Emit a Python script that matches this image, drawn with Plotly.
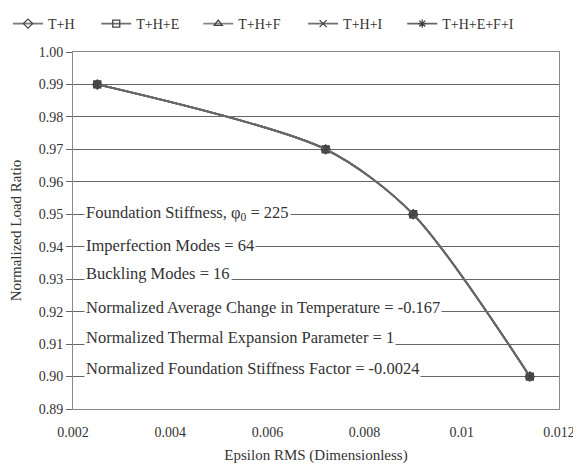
import plotly.graph_objects as go

series_names = ["T+H", "T+H+E", "T+H+F", "T+H+I", "T+H+E+F+I"]
series_symbols = ["diamond-open", "square-open", "triangle-up-open", "x-thin-open", "asterisk-open"]
epsilon_rms = [0.0025, 0.0072, 0.0090, 0.0114]
load_TH = [0.990, 0.970, 0.950, 0.900]
load_THE = [0.990, 0.970, 0.950, 0.900]
load_THF = [0.990, 0.970, 0.950, 0.900]
load_THI = [0.990, 0.970, 0.950, 0.900]
load_THEFI = [0.990, 0.970, 0.950, 0.900]
series_values = [load_TH, load_THE, load_THF, load_THI, load_THEFI]

notes = [
    ("Foundation Stiffness, φ<sub>0</sub> = 225", 0.9503),
    ("Imperfection Modes = 64", 0.9405),
    ("Buckling Modes = 16", 0.9318),
    ("Normalized Average Change in Temperature = -0.167", 0.9213),
    ("Normalized Thermal Expansion Parameter = 1", 0.9120),
    ("Normalized Foundation Stiffness Factor = -0.0024", 0.9025),
]

FONT = "'Liberation Serif', 'Times New Roman', serif"
fig = go.Figure()
line_colors = ["#7a7a7a", "#6e6e6e", "#858585", "#707070", "#666666"]
legend_ids = ["legend", "legend2", "legend3", "legend4", "legend5"]
legend_x = [0.0, 0.154, 0.332, 0.515, 0.688]
for name, sym, vals, col, lg in zip(series_names, series_symbols, series_values, line_colors, legend_ids):
    fig.add_trace(go.Scatter(
        x=epsilon_rms, y=vals, name=name, mode="lines+markers",
        line=dict(color=col, width=1.8, shape="spline", smoothing=0.8),
        marker=dict(symbol=sym, size=7, color="#444444", line=dict(width=1.3, color="#444444")),
        legend=lg,
    ))

for txt, yv in notes:
    fig.add_annotation(x=0.023, xref="paper", y=yv, yref="y", text=txt, showarrow=False,
                       xanchor="left", yanchor="middle", bgcolor="white", borderpad=1,
                       font=dict(family=FONT, size=16.5, color="#333333"))

legend_common = dict(orientation="h", xref="container", y=1.0, yref="container",
                     xanchor="left", yanchor="top", itemwidth=30,
                     font=dict(family=FONT, size=14, color="#333333"), bgcolor="rgba(0,0,0,0)")
legends = {lg: dict(x=lx, **legend_common) for lg, lx in zip(legend_ids, legend_x)}

fig.update_layout(
    width=573, height=466,
    margin=dict(l=65, r=22, t=44, b=65, autoexpand=False),
    paper_bgcolor="white", plot_bgcolor="white",
    font=dict(family=FONT, size=14, color="#333333"),
    showlegend=True,
    **legends,
    xaxis=dict(range=[0.002, 0.012], dtick=0.002, tick0=0.002, showgrid=False, zeroline=False,
               showline=True, linecolor="#888888", linewidth=1, mirror=True, ticks="",
               ticklabelstandoff=10,
               title=dict(text="Epsilon RMS (Dimensionless)", font=dict(family=FONT, size=15, color="#333333"), standoff=10)),
    yaxis=dict(range=[0.89, 1.0], dtick=0.01, tick0=0.89, tickformat=".2f", showgrid=True,
               gridcolor="#666666", gridwidth=1, zeroline=False,
               showline=True, linecolor="#888888", linewidth=1, mirror=True, ticks="outside",
               ticklen=6, tickcolor="#666666",
               title=dict(text="Normalized Load Ratio", font=dict(family=FONT, size=15, color="#333333"), standoff=18)),
)

fig.write_html("out.html")
